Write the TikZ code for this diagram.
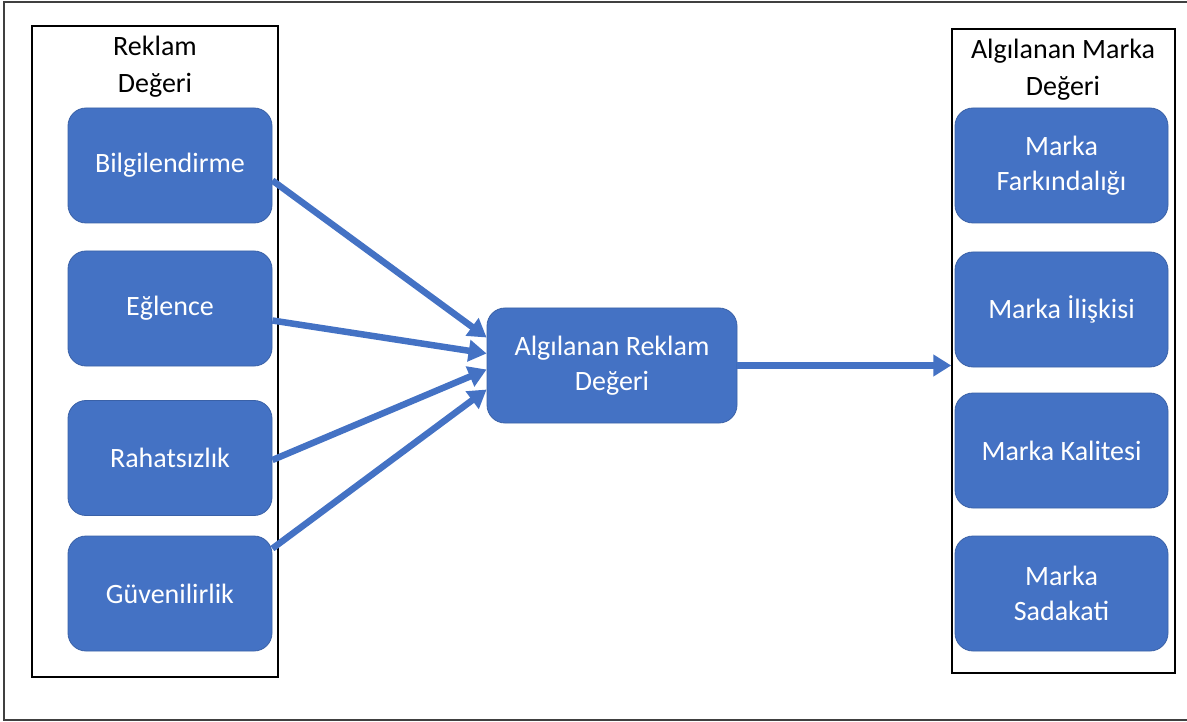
\documentclass[tikz,border=0pt]{standalone}
\usepackage{fontspec}
\setmainfont{Carlito}
\usepackage{tikz}
\usetikzlibrary{arrows.meta}
\usetikzlibrary{positioning}
\definecolor{boxblue}{HTML}{4472C4}

\begin{document}
\begin{tikzpicture} [x=1pt,y=-1pt]
	 \tikzstyle{frame}=[draw,black,line width=1.5pt,inner sep=0pt]
	 \tikzstyle{factor}=[rectangle,rounded corners=18pt,fill=boxblue,draw=boxblue!85!black,line width=0.8pt,text=white,align=center,minimum height=115pt,inner sep=0pt,font=\fontsize{28}{35}\selectfont]
	 \tikzstyle{title}=[align=center,font=\fontsize{28}{37}\selectfont]
	 \tikzstyle{edge} = [draw,line width=6.5pt,boxblue,-{Triangle[length=18pt,width=21pt]}]
	 \useasboundingbox (0,0) rectangle (1187,722);
	 \draw[line width=1.2pt,black!75] (1195,2) -- (4,2) -- (4,720) -- (1195,720);
	 % frames
	 \node[frame,minimum width=246pt,minimum height=651pt] (lframe) at (155,351.5) {};
	 \node[frame,minimum width=223pt,minimum height=644pt] (rframe) at (1063.5,351) {};
	 \node[title] (ltitle) at (155,67) {Reklam\\Değeri};
	 \node[title] (rtitle) at (1063,70) {Algılanan Marka\\Değeri};
	 % reklam degeri
	 \node[factor,minimum width=204pt] (v1) at (170,165.5) {Bilgilendirme};
	 \node[factor,minimum width=204pt] (v2) at (170,308.5) {Eğlence};
	 \node[factor,minimum width=204pt] (v3) at (170,458) {Rahatsızlık};
	 \node[factor,minimum width=204pt] (v4) at (170,593.5) {Güvenilirlik};
	 % algilanan reklam degeri
	 \node[factor,minimum width=250pt] (v0) at (612,365.5) {Algılanan Reklam\\Değeri};
	 % marka degeri
	 \node[factor,minimum width=213pt] (m1) at (1061.5,165.5) {Marka\\Farkındalığı};
	 \node[factor,minimum width=213pt] (m2) at (1061.5,309.5) {Marka İlişkisi};
	 \node[factor,minimum width=213pt] (m3) at (1061.5,450.5) {Marka Kalitesi};
	 \node[factor,minimum width=213pt] (m4) at (1061.5,593.5) {Marka\\Sadakati};

	 \draw[edge] ([yshift=-15pt]v1.east) -- ([yshift=28pt]v0.west);
	 \draw[edge] ([yshift=-12pt]v2.east) -- ([yshift=12pt]v0.west);
	 \draw[edge] ([yshift=-2pt]v3.east) -- ([yshift=-4pt]v0.west);
	 \draw[edge] ([yshift=45pt]v4.east) -- ([yshift=-24pt]v0.west);
	 \draw[edge] (v0.east) -- (v0.east -| rframe.west);
 \end{tikzpicture}
\end{document}
